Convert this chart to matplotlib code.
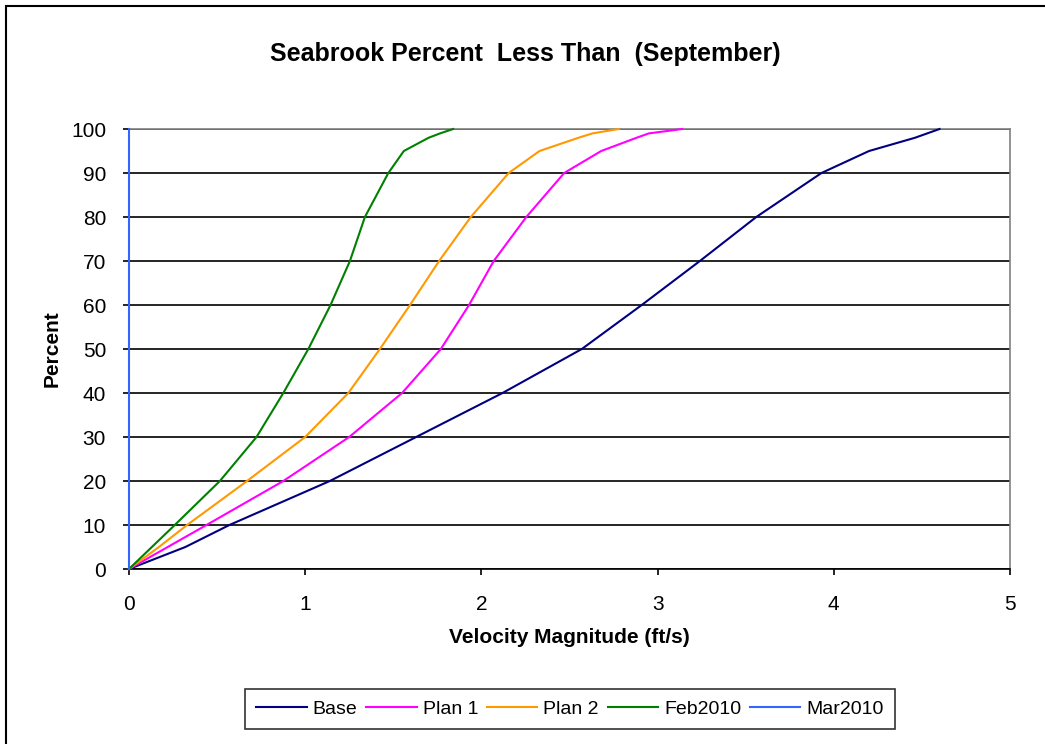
import matplotlib
matplotlib.use("Agg")
import matplotlib.pyplot as plt
from matplotlib.patches import Rectangle

plt.rcParams['font.family'] = ['Liberation Sans', 'DejaVu Sans']

# Data (percent less than vs velocity magnitude)
percent = [0, 5, 10, 20, 30, 40, 50, 60, 70, 80, 90, 95, 98, 99, 100]
base = [0, 0.32, 0.57, 1.14, 1.63, 2.12, 2.57, 2.91, 3.24, 3.56, 3.93, 4.20, 4.46, 4.53, 4.60]
plan1 = [0, 0.22, 0.44, 0.876, 1.25, 1.55, 1.77, 1.93, 2.07, 2.255, 2.47, 2.68, 2.88, 2.95, 3.14]
plan2 = [0, 0.17, 0.33, 0.67, 1.0, 1.245, 1.424, 1.595, 1.76, 1.94, 2.155, 2.33, 2.55, 2.63, 2.78]
feb2010 = [0, 0.13, 0.26, 0.516, 0.724, 0.876, 1.018, 1.144, 1.254, 1.339, 1.472, 1.56, 1.70, 1.765, 1.84]
mar2010 = [0] * len(percent)

series = [
    ("Base", base, "#000080"),
    ("Plan 1", plan1, "#FF00FF"),
    ("Plan 2", plan2, "#FF9900"),
    ("Feb2010", feb2010, "#008000"),
    ("Mar2010", mar2010, "#3366FF"),
]

xticks = [0, 1, 2, 3, 4, 5]
yticks = [0, 10, 20, 30, 40, 50, 60, 70, 80, 90, 100]


def main():
    fig = plt.figure(figsize=(10.45, 7.44), dpi=100)
    ax = fig.add_axes([0.1234, 0.2352, 0.8431, 0.5914])

    # gridlines
    for y in yticks:
        ax.axhline(y, color="black", lw=1.2, zorder=1)

    for name, xs, color in series:
        ax.plot(xs, percent, color=color, lw=1.5, label=name, zorder=3, clip_on=False)

    ax.set_xlim(0, 5)
    ax.set_ylim(0, 100)
    ax.set_xticks(xticks)
    ax.set_yticks(yticks)
    ax.tick_params(axis="both", labelsize=15, direction="out", color="black", width=1.2)
    ax.tick_params(axis="y", length=4.5, pad=12)
    ax.tick_params(axis="x", length=4.5, pad=14)

    for side in ["top", "right"]:
        ax.spines[side].set_color("#808080")
        ax.spines[side].set_linewidth(1.2)
    for side in ["bottom", "left"]:
        ax.spines[side].set_color("black")
        ax.spines[side].set_linewidth(1.2)
    ax.spines["top"].set_zorder(2)

    ax.set_xlabel("Velocity Magnitude (ft/s)", fontsize=15, fontweight="bold", labelpad=10)
    ax.set_ylabel("Percent", fontsize=15, fontweight="bold", labelpad=7)
    fig.text(0.5025, 1 - 54 / 744, "Seabrook Percent  Less Than  (September)",
             ha="center", va="center", fontsize=18, fontweight="bold")

    leg = fig.legend(loc="center", bbox_to_anchor=(570 / 1045, 1 - 709 / 744), ncol=5,
                     fontsize=14, frameon=True, fancybox=False, edgecolor="black",
                     handlelength=2.6, handletextpad=0.3, columnspacing=0.45,
                     borderpad=0.6)
    leg.get_frame().set_linewidth(1.2)

    # outer chart border (right and bottom edges fall outside the image)
    fig.add_artist(Rectangle((6 / 1045, -0.1), 1.2, 1.1 - 6 / 744, transform=fig.transFigure,
                             fill=False, edgecolor="black", lw=1.5))

    fig.savefig("out.png", dpi=100)


if __name__ == "__main__":
    main()
